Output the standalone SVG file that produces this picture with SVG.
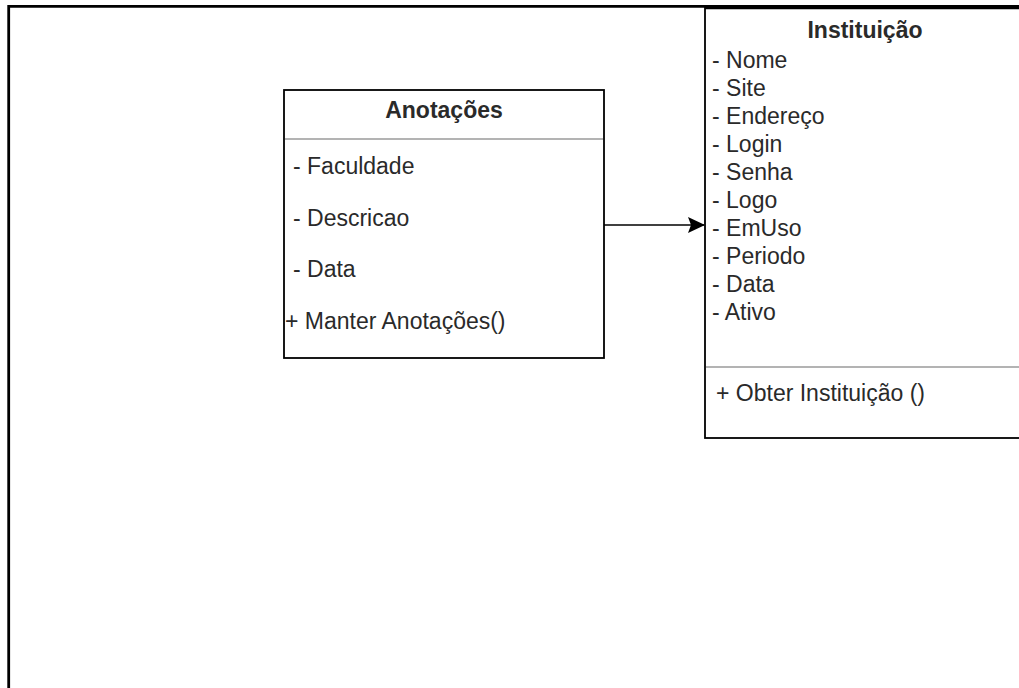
<svg xmlns="http://www.w3.org/2000/svg" width="1019" height="688" viewBox="0 0 1019 688">
  <defs>
    <style>
      .box { fill: #ffffff; stroke: #000000; stroke-width: 1.8; }
      .sep { stroke: #9a9a9a; stroke-width: 1.6; }
      .frame { fill: none; stroke: #000000; stroke-width: 2.8; }
      text { font-family: "Liberation Sans", Arial, sans-serif; font-size: 23px; fill: #2a2a2a; }
      .title { font-weight: bold; text-anchor: middle; }
      .edge { fill: none; stroke: #000000; stroke-width: 1.6; }
    </style>
    <marker id="arrow" viewBox="0 0 17 17" refX="16" refY="8.5" markerWidth="17" markerHeight="17" markerUnits="userSpaceOnUse" orient="auto">
      <path d="M0,0.5 L17,8.5 L0,16.5 L3,8.5 Z" fill="#000000"/>
    </marker>
  </defs>

  <rect width="1019" height="688" fill="#ffffff"/>

  <!-- outer page frame -->
  <path class="frame" d="M8.7,688 V6.3 H1019"/>

  <!-- Anotações class -->
  <g id="anotacoes">
    <rect class="box" x="284" y="90" width="320" height="268"/>
    <line class="sep" x1="285" y1="139" x2="603" y2="139"/>
    <text class="title" x="444" y="118">Anotações</text>
    <text x="293" y="174">- Faculdade</text>
    <text x="293" y="226">- Descricao</text>
    <text x="293" y="277">- Data</text>
    <text x="285" y="329">+ Manter Anotações()</text>
  </g>

  <!-- Instituição class -->
  <g id="instituicao">
    <rect class="box" x="705" y="7.5" width="330" height="430.5"/>
    <line x1="705" y1="7.5" x2="1019" y2="7.5" stroke="#000000" stroke-width="3.5"/>
    <line class="sep" x1="706" y1="367" x2="1019" y2="367"/>
    <text class="title" x="865" y="38">Instituição</text>
    <text x="712" y="68">- Nome</text>
    <text x="712" y="96">- Site</text>
    <text x="712" y="124">- Endereço</text>
    <text x="712" y="152">- Login</text>
    <text x="712" y="180">- Senha</text>
    <text x="712" y="208">- Logo</text>
    <text x="712" y="236">- EmUso</text>
    <text x="712" y="264">- Periodo</text>
    <text x="712" y="292">- Data</text>
    <text x="712" y="320">- Ativo</text>
    <text x="716" y="401">+ Obter Instituição ()</text>
  </g>

  <!-- connectors -->
  <g id="connectors">
    <path class="edge" d="M604,225 H704" marker-end="url(#arrow)"/>
  </g>
</svg>
